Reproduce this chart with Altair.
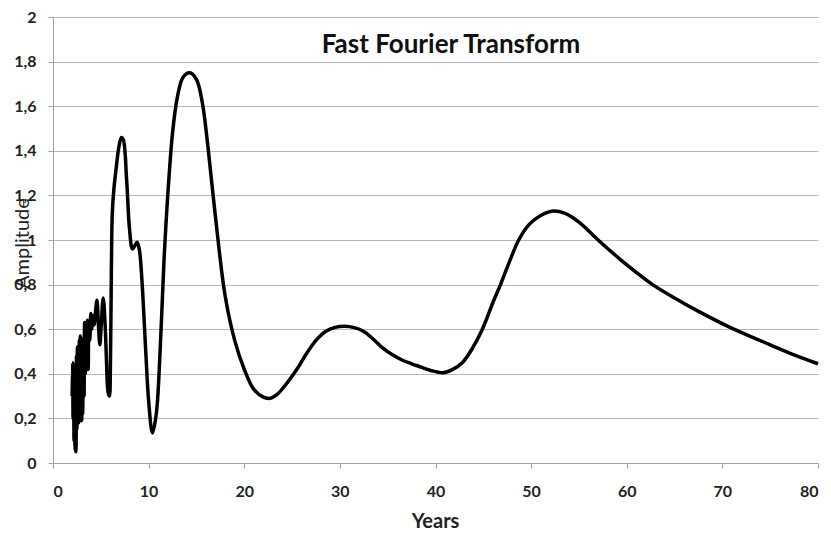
import altair as alt
import pandas as pd

years = [2.0, 2.05, 2.1, 2.15, 2.2, 2.25, 2.3, 2.38, 2.45, 2.5, 2.55, 2.6, 2.65, 2.7, 2.75,
         2.8, 2.85, 2.9, 2.95, 3.0, 3.05, 3.1, 3.2, 3.25, 3.3, 3.38, 3.45, 3.5, 3.6, 3.68,
         3.75, 3.85, 3.95, 4.05, 4.15, 4.3, 4.45, 4.6, 4.75, 4.9, 5.05, 5.25, 5.45, 5.6,
         5.75, 5.9, 6.0, 6.1, 6.2, 6.35, 6.6, 6.9, 7.15, 7.35, 7.7, 8.0, 8.3, 8.5, 8.8,
         9.05, 9.3, 9.7, 10.0, 10.4, 10.8, 11.2, 11.6, 12.0, 12.5, 13.0, 13.6, 14.3, 15.0,
         15.6, 16.2, 17.0, 18.0, 19.0, 20.0, 21.0, 22.0, 22.7, 23.5, 24.5, 25.5, 26.5,
         27.5, 28.5, 29.5, 30.5, 31.5, 32.5, 33.5, 34.5, 35.5, 36.5, 37.5, 38.5, 39.5, 40.8,
         41.8, 42.8, 43.8, 44.9, 46.1, 46.8, 47.8, 48.7, 49.8, 51.0, 52.3, 53.5, 55.0,
         57.0, 59.4, 61.0, 62.7, 65.0, 67.5, 71.2, 75.0, 77.5, 80.0]
amplitude = [0.30, 0.45, 0.20, 0.42, 0.10, 0.44, 0.08, 0.05, 0.48, 0.15, 0.52, 0.25, 0.50,
             0.18, 0.55, 0.20, 0.57, 0.30, 0.56, 0.19, 0.50, 0.22, 0.55, 0.30, 0.63, 0.40,
             0.62, 0.45, 0.64, 0.42, 0.63, 0.55, 0.67, 0.60, 0.66, 0.62, 0.68, 0.73, 0.62,
             0.53, 0.62, 0.74, 0.62, 0.45, 0.32, 0.30, 0.42, 0.85, 1.12, 1.22, 1.32, 1.42,
             1.46, 1.45, 1.27, 1.05, 0.96, 0.97, 0.99, 0.95, 0.82, 0.50, 0.28, 0.135, 0.22,
             0.50, 0.90, 1.20, 1.48, 1.64, 1.73, 1.75, 1.72, 1.62, 1.42, 1.10, 0.75, 0.55,
             0.42, 0.33, 0.295, 0.29, 0.31, 0.36, 0.42, 0.49, 0.55, 0.59, 0.608, 0.613, 0.607,
             0.59, 0.555, 0.515, 0.485, 0.462, 0.445, 0.43, 0.415, 0.405, 0.42, 0.45, 0.51,
             0.60, 0.73, 0.80, 0.91, 1.00, 1.07, 1.11, 1.13, 1.12, 1.08, 1.00, 0.91, 0.855,
             0.80, 0.74, 0.68, 0.60, 0.53, 0.485, 0.445]

df = pd.DataFrame({"Years": years, "Amplitude": amplitude})

FONT = "Lato"

line = alt.Chart(df).mark_line(color="black", strokeWidth=3.5, interpolate="catmull-rom").encode(
    x=alt.X("Years:Q",
            scale=alt.Scale(domain=[0, 80], nice=False),
            axis=alt.Axis(values=[0, 10, 20, 30, 40, 50, 60, 70, 80], grid=False,
                          title="Years", titleFontSize=20, titleFont=FONT, titleFontWeight="bold",
                          titleColor="#222", titleX=382, titleY=58, titleBaseline="middle",
                          labelFont=FONT, labelFontSize=16, labelFontWeight="bold",
                          labelColor="#222", labelPadding=15, tickSize=5,
                          domainColor="#a0a0a0", tickColor="#a0a0a0")),
    y=alt.Y("Amplitude:Q",
            scale=alt.Scale(domain=[0, 2], nice=False),
            axis=alt.Axis(values=[0, 0.2, 0.4, 0.6, 0.8, 1.0, 1.2, 1.4, 1.6, 1.8, 2.0],
                          labelExpr="replace(format(datum.value, '.1~f'), '.', ',')",
                          grid=True, gridColor="#b8b8b8", gridWidth=1,
                          title="Amplitude", titleFontSize=20, titleFont=FONT,
                          titleFontWeight="normal", titleColor="#222",
                          titleX=-31, titleY=226, titleAlign="center", titleBaseline="middle",
                          labelFont=FONT, labelFontSize=16, labelFontWeight="bold",
                          labelColor="#222", labelPadding=12, tickSize=5,
                          domainColor="#a0a0a0", tickColor="#a0a0a0")),
)

title_df = pd.DataFrame({"t": ["Fast Fourier Transform"]})
title = alt.Chart(title_df).mark_text(
    font=FONT, fontSize=26, fontWeight="bold", color="#111", align="center", baseline="middle"
).encode(x=alt.value(398), y=alt.value(28), text="t:N")

chart = alt.layer(line, title).properties(
    width=765, height=446,
    autosize=alt.AutoSizeParams(type="none"),
    padding={"left": 45, "top": 9, "right": 5, "bottom": 71},
    background="white",
).configure_view(stroke=None)

chart.save("out.html", embed_options={"renderer": "svg", "actions": False})
